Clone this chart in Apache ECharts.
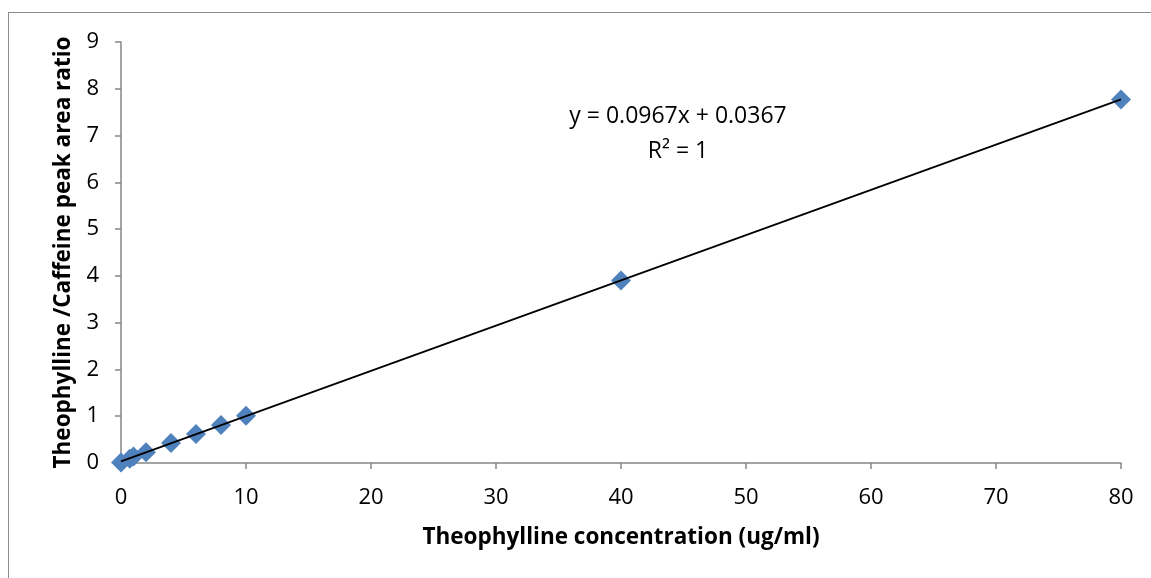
<!DOCTYPE html>
<html>
<head>
<meta charset="utf-8">
<script src="https://cdn.jsdelivr.net/npm/echarts@6/dist/echarts.min.js"></script>
<style>
html,body{margin:0;padding:0;background:#fff;overflow:hidden;}
#frame{position:absolute;left:8px;top:12px;width:1200px;height:620px;border:1.5px solid #8c8c8c;box-sizing:border-box;}
#chart{position:absolute;left:0;top:0;width:1151px;height:578px;}
</style>
</head>
<body>
<div id="frame"></div>
<div id="chart"></div>
<script>
const concentrations = [0, 0.7, 1, 2, 4, 6, 8, 10, 40, 80];
const ratios = [0.01, 0.09, 0.14, 0.23, 0.43, 0.62, 0.81, 1.01, 3.9, 7.77];
const trendX = [0, 80];
const trendY = [0.0367, 7.7727];
const equationText = 'y = 0.0967x + 0.0367';
const r2Text = 'R² = 1';

const chart = echarts.init(document.getElementById('chart'));
const font = '"Open Sans", "Liberation Sans", sans-serif';
chart.setOption({
  animation: false,
  grid: {left: 121, right: 30, top: 42, bottom: 115},
  xAxis: {
    type: 'value', min: 0, max: 80, interval: 10,
    name: 'Theophylline concentration (ug/ml)',
    nameLocation: 'middle', nameGap: 63,
    nameTextStyle: {fontFamily: font, fontWeight: 'bold', fontSize: 22.5, color: '#000'},
    axisLine: {lineStyle: {color: '#868686', width: 1.5}},
    axisTick: {show: true, length: 6, lineStyle: {color: '#868686', width: 1.5}},
    axisLabel: {fontFamily: font, fontSize: 22, color: '#000', margin: 24},
    splitLine: {show: false}
  },
  yAxis: {
    type: 'value', min: 0, max: 9, interval: 1,
    name: 'Theophylline /Caffeine peak area ratio',
    nameLocation: 'middle', nameGap: 46, nameRotate: 90,
    nameTextStyle: {fontFamily: font, fontWeight: 'bold', fontSize: 22.5, color: '#000'},
    axisLine: {show: true, lineStyle: {color: '#868686', width: 1.5}},
    axisTick: {show: true, length: 6, lineStyle: {color: '#868686', width: 1.5}},
    axisLabel: {fontFamily: font, fontSize: 22, color: '#000', margin: 22},
    splitLine: {show: false}
  },
  series: [
    {
      type: 'scatter', symbol: 'diamond', symbolSize: 20,
      itemStyle: {color: '#4F81BD', opacity: 1},
      data: concentrations.map((x, i) => [x, ratios[i]]),
      z: 2
    },
    {
      type: 'line', symbol: 'none',
      lineStyle: {color: '#000', width: 1.8},
      data: trendX.map((x, i) => [x, trendY[i]]),
      z: 3
    }
  ],
  graphic: [
    {type: 'text', x: 678, y: 116, style: {text: equationText, fontFamily: font, fontSize: 23, fill: '#000', align: 'center', verticalAlign: 'middle'}},
    {type: 'text', x: 678, y: 151, style: {text: r2Text, fontFamily: font, fontSize: 23, fill: '#000', align: 'center', verticalAlign: 'middle'}}
  ]
});
</script>
</body>
</html>
